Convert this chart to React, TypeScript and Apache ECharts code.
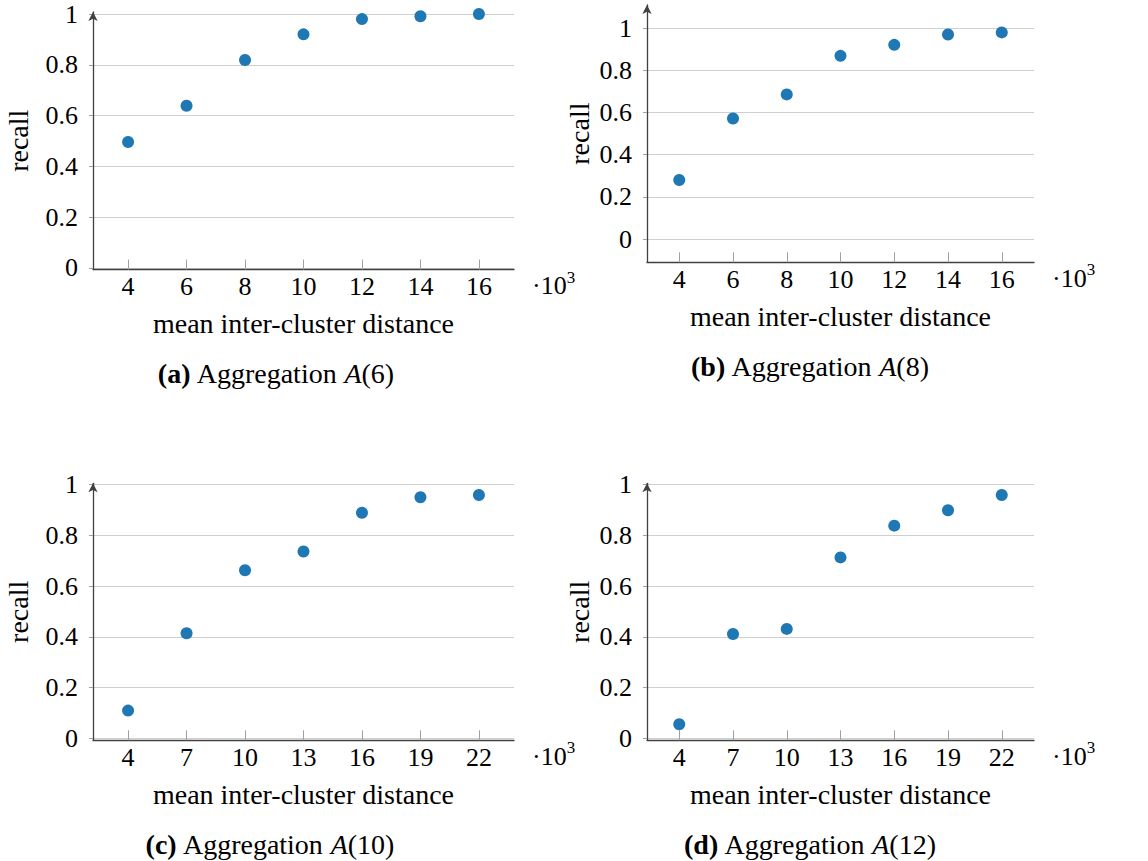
import React, { useEffect, useRef } from "react";
import * as echarts from "echarts";

const distancesAB = [4, 6, 8, 10, 12, 14, 16];
const distancesCD = [4, 7, 10, 13, 16, 19, 22];
const recallA = [0.496, 0.639, 0.819, 0.92, 0.98, 0.991, 1.0];
const recallB = [0.28, 0.572, 0.686, 0.869, 0.921, 0.97, 0.98];
const recallC = [0.109, 0.414, 0.662, 0.736, 0.889, 0.95, 0.959];
const recallD = [0.055, 0.411, 0.431, 0.713, 0.838, 0.899, 0.959];
const yTickValues = [0, 0.2, 0.4, 0.6, 0.8, 1];
const captionLetters = ["a", "b", "c", "d"];
const captionArgs = ["6", "8", "10", "12"];
const xAxisTitle = "mean inter-cluster distance";
const yAxisTitle = "recall";
const scaleText = "·10";
const scaleExp = "3";

const FONT = "'Liberation Serif', 'DejaVu Serif', serif";
const FS = 26;
const FT = 28;
const DOT = "#1f77b4";
const AXIS = "#404040";
const GRIDC = "#cfcfcf";
const TICKC = "#a0a0a0";

type Panel = {
  left: number; top: number; width: number; height: number;
  xMin: number; xMax: number; yMin: number; yMax: number;
  xs: number[]; ys: number[]; yNameGap: number; captionX: number;
};

const panels: Panel[] = [
  { left: 93, top: 12, width: 421, height: 257.5, xMin: 2.8, xMax: 17.2, yMin: -0.006, yMax: 1.008, xs: distancesAB, ys: recallA, yNameGap: 61, captionX: 276 },
  { left: 647, top: 5, width: 387, height: 257.3, xMin: 2.8, xMax: 17.2, yMin: -0.11, yMax: 1.11, xs: distancesAB, ys: recallB, yNameGap: 54, captionX: 810 },
  { left: 93, top: 483.3, width: 421, height: 257, xMin: 2.2, xMax: 23.8, yMin: -0.008, yMax: 1.005, xs: distancesCD, ys: recallC, yNameGap: 61, captionX: 270 },
  { left: 647, top: 483.3, width: 387, height: 257, xMin: 2.2, xMax: 23.8, yMin: -0.008, yMax: 1.005, xs: distancesCD, ys: recallD, yNameGap: 54, captionX: 810 },
];

export default function App() {
  const ref = useRef<HTMLDivElement>(null);
  useEffect(() => {
    if (!ref.current) return;
    const chart = echarts.init(ref.current, null, { renderer: "svg" });
    const grid = panels.map((p) => ({ left: p.left, top: p.top, width: p.width, height: p.height }));
    const xAxis = panels.map((p, i) => ({
      type: "value",
      gridIndex: i,
      min: p.xMin,
      max: p.xMax,
      name: xAxisTitle,
      nameLocation: "middle",
      nameGap: 40,
      nameTextStyle: { fontFamily: FONT, fontSize: FT, color: "#000" },
      axisLine: { show: true, onZero: false, lineStyle: { color: AXIS, width: 1.3 } },
      axisTick: { show: true, inside: true, length: 10, lineStyle: { color: TICKC, width: 1 }, customValues: p.xs },
      axisLabel: { show: true, margin: 4, fontFamily: FONT, fontSize: FS, color: "#000", customValues: p.xs },
      splitLine: { show: false },
    }));
    const yAxis = panels.map((p, i) => ({
      type: "value",
      gridIndex: i,
      min: p.yMin,
      max: p.yMax,
      name: yAxisTitle,
      nameLocation: "middle",
      nameGap: p.yNameGap,
      nameTextStyle: { fontFamily: FONT, fontSize: FT, color: "#000" },
      axisLine: { show: true, onZero: false, symbol: ["none", "arrow"], symbolSize: [7, 9], lineStyle: { color: AXIS, width: 1.3 } },
      axisTick: { show: true, inside: false, length: 4, lineStyle: { color: TICKC, width: 1 }, customValues: yTickValues },
      axisLabel: { show: true, margin: 15, fontFamily: FONT, fontSize: FS, color: "#000", customValues: yTickValues },
      splitLine: { show: true, lineStyle: { color: GRIDC, width: 1 } },
    }));
    const series = panels.map((p, i) => ({
      type: "scatter",
      xAxisIndex: i,
      yAxisIndex: i,
      symbol: "circle",
      symbolSize: 12,
      itemStyle: { color: DOT, opacity: 1 },
      data: p.xs.map((x, j) => [x, p.ys[j]]),
    }));
    const graphic: any[] = [];
    panels.forEach((p, i) => {
      const axisY = p.top + p.height;
      const right = p.left + p.width;
      graphic.push({
        type: "text",
        left: right + 18,
        top: axisY - 1,
        style: {
          text: `{m|${scaleText}}{s|${scaleExp}}`,
          fontFamily: FONT,
          fill: "#000",
          rich: {
            m: { fontFamily: FONT, fontSize: FS, fill: "#000", padding: [4, 0, 0, 0], verticalAlign: "bottom" },
            s: { fontFamily: FONT, fontSize: 17, fill: "#000", verticalAlign: "top" },
          },
        },
      });
      graphic.push({
        type: "text",
        x: p.captionX,
        y: axisY + 104,
        style: {
          text: `{b|(${captionLetters[i]})} Aggregation {i|A}(${captionArgs[i]})`,
          fontFamily: FONT,
          fontSize: FT,
          fill: "#000",
          align: "center",
          verticalAlign: "middle",
          rich: {
            b: { fontFamily: FONT, fontSize: FT, fontWeight: "bold", fill: "#000" },
            i: { fontFamily: FONT, fontSize: FT, fontStyle: "italic", fill: "#000" },
          },
        },
      });
    });
    chart.setOption({
      animation: false,
      backgroundColor: "#ffffff",
      grid,
      xAxis,
      yAxis,
      series,
      graphic,
    });
    return () => chart.dispose();
  }, []);
  return (
    <div
      ref={ref}
      style={{ position: "absolute", left: 0, top: 0, width: 1148, height: 861 }}
    />
  );
}
